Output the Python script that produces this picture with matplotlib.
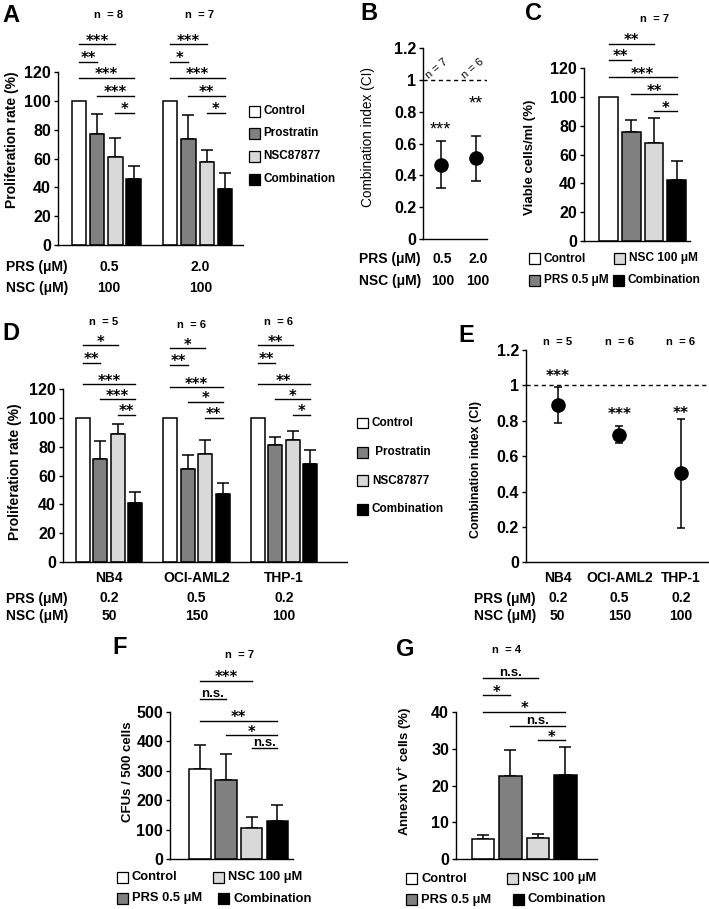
import numpy as np
import matplotlib
matplotlib.use('Agg')
import matplotlib.pyplot as plt
import matplotlib.transforms as mtransforms
from matplotlib.patches import Rectangle

plt.rcParams['font.family'] = ['Liberation Sans', 'DejaVu Sans']
plt.rcParams['font.weight'] = 'bold'
plt.rcParams['mathtext.default'] = 'regular'

W, H = 709, 909
fig = plt.figure(figsize=(W / 100, H / 100), dpi=100)

colors = ['white', '#808080', '#d9d9d9', 'black']

# ---- data ----
# A: proliferation, two dose groups
a_prs = ['0.5', '2.0']
a_nsc = ['100', '100']
a_n = ['n  = 8', 'n  = 7']
a_means = [[100, 77.4, 61.4, 45.6], [100, 74.0, 57.4, 39.0]]
a_errs = [[0, 13.8, 12.8, 9.5], [0, 16.2, 8.4, 10.8]]
a_sig = [['***', '**', '***', '***', '*'], ['***', '*', '***', '**', '*']]
a_sig_y = [139.6, 127.4, 116.1, 103.8, 91.8]

# B: combination index
b_prs = ['0.5', '2.0']
b_nsc = ['100', '100']
b_n = ['n = 7', 'n = 6']
b_ci = [0.466, 0.512]
b_lo = [0.319, 0.367]
b_hi = [0.617, 0.650]
b_star = ['***', '**']
b_star_y = [0.724, 0.885]

# C: viable cells
c_means = [100, 76.0, 68.3, 42.4]
c_errs = [0, 8.3, 16.9, 13.4]
c_sig = ['**', '**', '***', '**', '*']
c_sig_y = [136.9, 125.8, 113.7, 102.0, 90.3]

# D: cell lines
d_lines = ['NB4', 'OCI-AML2', 'THP-1']
d_prs = ['0.2', '0.5', '0.2']
d_nsc = ['50', '150', '100']
d_n = ['n  = 5', 'n  = 6', 'n  = 6']
d_means = [[100, 71.2, 88.9, 41.1], [100, 64.3, 74.7, 47.3], [100, 81.2, 84.5, 68.2]]
d_errs = [[0, 13.0, 6.7, 7.2], [0, 9.7, 10.0, 7.7], [0, 5.6, 6.5, 9.3]]
d_sig = [['*', '**', '***', '***', '**'], ['*', '**', '***', '*', '**'], ['**', '**', '**', '*', '*']]
d_sig_y = [[150.8, 138.6, 123.5, 113.2, 102.3], [148.7, 137.0, 121.5, 111.4, 100.2],
           [150.8, 138.6, 123.5, 113.2, 102.3]]

# E: combination index for cell lines
e_ci = [0.889, 0.719, 0.503]
e_lo = [0.785, 0.672, 0.196]
e_hi = [0.989, 0.770, 0.810]
e_n = ['n  = 5', 'n  = 6', 'n  = 6']
e_star = ['***', '***', '**']
e_star_y = [1.077, 0.86, 0.866]

# F: CFUs
f_means = [304.7, 268.6, 105.0, 129.8]
f_errs = [82.3, 88.1, 39.5, 54.2]
f_sig = ['***', 'n.s.', '**', '*', 'n.s.']
f_sig_y = [605, 541.8, 469.5, 421, 378]

# G: annexin V
g_means = [5.6, 22.6, 5.9, 22.9]
g_errs = [1.0, 7.0, 1.0, 7.4]
g_sig = ['n.s.', '*', '*', 'n.s.', '*']
g_sig_y = [49, 44.5, 40, 36.1, 32.3]

pairs = [(0, 2), (0, 1), (0, 3), (1, 3), (2, 3)]
STAR_FONT = ['DejaVu Sans']


def px_ax(x0, yt, x1, yb):
    ax = fig.add_axes([x0 / W, 1 - yb / H, (x1 - x0) / W, (yb - yt) / H])
    ax.spines[['top', 'right']].set_visible(False)
    for s in ['left', 'bottom']:
        ax.spines[s].set_linewidth(1.0)
    ax.tick_params(axis='y', length=3, width=1, labelsize=11.5, pad=2)
    ax.set_xticks([])
    ax.patch.set_alpha(0)
    return ax


def ftext(x, y, s, **kw):
    fig.text(x / W, 1 - y / H, s, **kw)


def xtext(ax, x, y, s, **kw):
    # x in data units, y in figure pixels
    tr = mtransforms.blended_transform_factory(ax.transData, fig.transFigure)
    ax.text(x, 1 - y / H, s, transform=tr, clip_on=False, **kw)


def bracket(ax, x1, x2, y, s):
    ax.plot([x1, x2], [y, y], color='k', lw=1, clip_on=False)
    if s == 'n.s.':
        ax.annotate(s, ((x1 + x2) / 2, y), xytext=(0, 1.5), textcoords='offset points',
                    ha='center', va='baseline', fontsize=9.5, annotation_clip=False)
    else:
        size = 10.5
        ax.annotate(s, ((x1 + x2) / 2, y), xytext=(0, 3.0 - 0.39 * size),
                    textcoords='offset points', ha='center', va='baseline',
                    fontsize=size, family=STAR_FONT, annotation_clip=False)


def star(ax, x, y, s, size=12, weight='bold', family=None):
    kw = {} if family is None else {'family': family}
    ax.annotate(s, (x, y), xytext=(0, -0.575 * size), textcoords='offset points',
                ha='center', va='baseline', fontsize=size, fontweight=weight,
                annotation_clip=False, **kw)


def bars(ax, xs, means, errs, width):
    ax.bar(xs, means, width, color=colors * (len(xs) // 4), edgecolor='k', linewidth=1.1, zorder=2)
    xs = np.asarray(xs)
    means = np.asarray(means)
    errs = np.asarray(errs)
    m = errs > 0
    ax.errorbar(xs[m], means[m], yerr=[np.zeros(m.sum()), errs[m]], fmt='none',
                ecolor='k', elinewidth=1.1, capsize=4, capthick=1.1, zorder=1)


def leg_item(x, y, color, label, size, box=11):
    fig.patches.append(Rectangle((x / W, 1 - (y + box / 2) / H), box / W, box / H,
                                 transform=fig.transFigure, facecolor=color,
                                 edgecolor='k', lw=0.9))
    ftext(x + box + 4, y, label, fontsize=size, va='center', ha='left')


def panel(letter, x, y):
    ftext(x, y, letter, fontsize=17, va='center', ha='left')


def ylab(x, y, s, size=10, weight='bold'):
    ftext(x, y, s, rotation=90, fontsize=size, fontweight=weight, ha='center', va='center')


# ---- A ----
ax = px_ax(58, 72.3, 243.3, 245)
ax.set_ylim(0, 120)
ax.set_xlim(-1.14, 9.0)
ax.set_yticks(range(0, 121, 20))
for g in range(2):
    xs = [g * 5 + i for i in range(4)]
    bars(ax, xs, a_means[g], a_errs[g], 0.79)
    for (i, j), s, y in zip(pairs, a_sig[g], a_sig_y):
        bracket(ax, xs[i], xs[j], y, s)
    xc = g * 5 + 1.5
    xtext(ax, xc + 0.1, 15, a_n[g], fontsize=8, ha='center', va='center')
    xtext(ax, xc + 0.15, 267, a_prs[g], fontsize=10, ha='center', va='center')
    xtext(ax, xc + 0.15, 288.5, a_nsc[g], fontsize=10, ha='center', va='center')
ftext(6, 267, 'PRS (μM)', fontsize=10, ha='left', va='center')
ftext(6, 288.5, 'NSC (μM)', fontsize=10, ha='left', va='center')
ylab(12, 140, 'Proliferation rate (%)')
panel('A', 2, 15)
for k, lab in enumerate(['Control', 'Prostratin', 'NSC87877', 'Combination']):
    leg_item(248.5, [111, 133.5, 156, 179][k], colors[k], lab, 8.5)

# ---- B ----
ax = px_ax(423.3, 48.3, 486.7, 239)
ax.set_ylim(0, 1.2)
ax.set_xlim(-0.493, 1.303)
ax.set_yticks([0, 0.2, 0.4, 0.6, 0.8, 1.0, 1.2])
ax.set_yticklabels(['0', '0.2', '0.4', '0.6', '0.8', '1', '1.2'])
bx = np.arange(len(b_ci))
ax.errorbar(bx, b_ci, yerr=[np.array(b_ci) - np.array(b_lo), np.array(b_hi) - np.array(b_ci)],
            fmt='o', color='k', ms=9.5, elinewidth=1.1, capsize=3.3, capthick=1.1, clip_on=False)
ax.axhline(1, color='k', lw=1, dashes=(3, 2.5))
for i in range(2):
    star(ax, bx[i], b_star_y[i], b_star[i], size=13, weight='normal')
    ax.text(bx[i] - 0.1, 1.07, b_n[i], rotation=40, ha='center', va='center',
            fontsize=8, fontweight='normal')
    xtext(ax, bx[i] + 0.05, 259, b_prs[i], fontsize=10, ha='center', va='center')
    xtext(ax, bx[i] + 0.05, 281, b_nsc[i], fontsize=10, ha='center', va='center')
ftext(359, 259, 'PRS (μM)', fontsize=10, ha='left', va='center')
ftext(359, 281, 'NSC (μM)', fontsize=10, ha='left', va='center')
ylab(368, 137, 'Combination index (CI)', size=9.8, weight='normal')
panel('B', 360, 13)

# ---- C ----
ax = px_ax(584, 68.3, 690, 241)
ax.set_ylim(0, 120)
ax.set_xlim(-1.10, 3.59)
ax.set_yticks(range(0, 121, 20))
cx = list(range(4))
bars(ax, cx, c_means, c_errs, 0.83)
for (i, j), s, y in zip(pairs, c_sig, c_sig_y):
    bracket(ax, cx[i], cx[j], y, s)
xtext(ax, 2.0, 18.5, 'n  = 7', fontsize=8, ha='center', va='center')
ylab(530, 157, 'Viable cells/ml (%)', size=9.5)
panel('C', 525, 13)
leg_item(529, 258.5, colors[0], 'Control', 8.6)
leg_item(614, 258.5, colors[2], 'NSC 100 μM', 8.6)
leg_item(529, 280, colors[1], 'PRS 0.5 μM', 8.6)
leg_item(613, 280, colors[3], 'Combination', 8.6)

# ---- D ----
ax = px_ax(63, 389.3, 346.7, 561.7)
ax.set_ylim(0, 120)
ax.set_xlim(-1.13, 15.1)
ax.set_yticks(range(0, 121, 20))
for g in range(3):
    xs = [g * 5 + i for i in range(4)]
    bars(ax, xs, d_means[g], d_errs[g], 0.8)
    for (i, j), s, y in zip(pairs, d_sig[g], d_sig_y[g]):
        bracket(ax, xs[i], xs[j], y, s)
    xc = g * 5 + 1.5
    xtext(ax, xc - 0.3, [321.7, 325, 322][g], d_n[g], fontsize=8, ha='center', va='center')
    xtext(ax, xc, 578.5, d_lines[g], fontsize=10, ha='center', va='center')
    xtext(ax, xc, 598.5, d_prs[g], fontsize=10, ha='center', va='center')
    xtext(ax, xc, 616, d_nsc[g], fontsize=10, ha='center', va='center')
ftext(6, 598.5, 'PRS (μM)', fontsize=10, ha='left', va='center')
ftext(6, 616, 'NSC (μM)', fontsize=10, ha='left', va='center')
ylab(15, 472, 'Proliferation rate (%)')
panel('D', 2, 333)
for k, lab in enumerate(['Control', ' Prostratin', 'NSC87877', 'Combination']):
    leg_item(357, [423, 452, 480.5, 509][k], colors[k], lab, 8.5)

# ---- E ----
ax = px_ax(526, 350, 708, 562.3)
ax.set_ylim(0, 1.2)
ax.set_xlim(-0.514, 2.438)
ax.set_yticks([0, 0.2, 0.4, 0.6, 0.8, 1.0, 1.2])
ax.set_yticklabels(['0', '0.2', '0.4', '0.6', '0.8', '1', '1.2'])
ex = np.arange(len(e_ci))
ax.errorbar(ex, e_ci, yerr=[np.array(e_ci) - np.array(e_lo), np.array(e_hi) - np.array(e_ci)],
            fmt='o', color='k', ms=9.5, elinewidth=1.1, capsize=2.8, capthick=1.1, clip_on=False)
ax.axhline(1, color='k', lw=1, dashes=(3, 2.5))
for i in range(3):
    star(ax, ex[i], e_star_y[i], e_star[i], size=11, family=STAR_FONT)
    xtext(ax, ex[i], 341.7, e_n[i], fontsize=8, ha='center', va='center')
    xtext(ax, ex[i], 578.5, d_lines[i], fontsize=10, ha='center', va='center')
    xtext(ax, ex[i], 598.5, d_prs[i], fontsize=10, ha='center', va='center')
    xtext(ax, ex[i], 616, d_nsc[i], fontsize=10, ha='center', va='center')
ftext(474, 598.5, 'PRS (μM)', fontsize=10, ha='left', va='center')
ftext(474, 616, 'NSC (μM)', fontsize=10, ha='left', va='center')
ylab(476, 470, 'Combination index (CI)', size=9)
panel('E', 458, 335)

# ---- F ----
ax = px_ax(170, 711.7, 293, 859.3)
ax.set_ylim(0, 500)
ax.set_xlim(-1.16, 3.6)
ax.set_yticks(range(0, 501, 100))
fx = list(range(4))
bars(ax, fx, f_means, f_errs, 0.83)
for (i, j), s, y in zip(pairs, f_sig, f_sig_y):
    bracket(ax, fx[i], fx[j], y, s)
xtext(ax, 1.55, 655, 'n  = 7', fontsize=8, ha='center', va='center')
ylab(128, 772, 'CFUs / 500 cells', size=9.5)
panel('F', 112, 647)
leg_item(117, 877, colors[0], 'Control', 9.3)
leg_item(213, 877, colors[2], 'NSC 100 μM', 9.3)
leg_item(117, 898.5, colors[1], 'PRS 0.5 μM', 9.3)
leg_item(218, 898.5, colors[3], 'Combination', 9.3)

# ---- G ----
ax = px_ax(456, 711.7, 597, 859.3)
ax.set_ylim(0, 40)
ax.set_xlim(-0.98, 4.15)
ax.set_yticks(range(0, 41, 10))
gx = list(range(4))
bars(ax, gx, g_means, g_errs, 0.82)
for (i, j), s, y in zip(pairs, g_sig, g_sig_y):
    bracket(ax, gx[i], gx[j], y, s)
xtext(ax, 0.85, 650, 'n  = 4', fontsize=8, ha='center', va='center')
ylab(406, 771, 'Annexin V$^{+}$ cells (%)', size=9.5)
panel('G', 396, 650)
leg_item(406, 878.5, colors[0], 'Control', 9.3)
leg_item(507, 878.5, colors[2], 'NSC 100 μM', 9.3)
leg_item(406, 899.5, colors[1], 'PRS 0.5 μM', 9.3)
leg_item(513, 899.5, colors[3], 'Combination', 9.3)

fig.savefig('out.png', dpi=100)
